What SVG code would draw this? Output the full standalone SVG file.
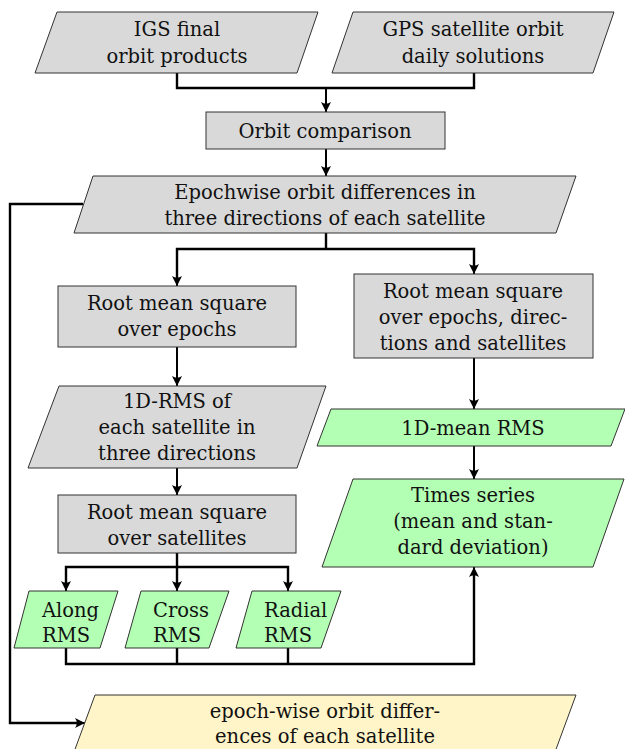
<svg xmlns="http://www.w3.org/2000/svg" width="625" height="749" viewBox="0 0 625 749">
<style>
text{font-family:'DejaVu Serif','Liberation Serif',serif;font-size:19.5px;fill:#111;text-anchor:middle}
.g{fill:#d9d9d9;stroke:#333;stroke-width:1}
.gr{fill:#b3ffb3;stroke:#333;stroke-width:1}
.y{fill:#fff5c8;stroke:#333;stroke-width:1}
.c{fill:none;stroke:#000;stroke-width:2.4;stroke-linejoin:miter}
.s{fill:none;stroke:#000;stroke-width:2}
.l{text-anchor:start}
</style>
<defs>
<marker id="ar" markerUnits="userSpaceOnUse" viewBox="-12 -7 13 14" refX="0" refY="0" markerWidth="13" markerHeight="14" orient="auto" overflow="visible">
<path d="M0,0 L-10,-5 Q-6.5,0 -10,5 Z" fill="#000"/>
</marker>
</defs>
<g id="connectors">
<path class="c" d="M177,73 V88 H474 V73"/>
<path class="s" d="M326,88 V112" marker-end="url(#ar)"/>
<path class="s" d="M326,149 V176" marker-end="url(#ar)"/>
<path class="c" d="M177,280 V249 H474 V268"/>
<path class="c" d="M326,233 V249"/>
<path class="s" d="M177,279 V286" marker-end="url(#ar)"/>
<path class="s" d="M474,267 V274" marker-end="url(#ar)"/>
<path class="s" d="M177,347 V386" marker-end="url(#ar)"/>
<path class="s" d="M177,468 V495" marker-end="url(#ar)"/>
<path class="c" d="M66,585 V567 H288 V585"/>
<path class="c" d="M177,553 V585"/>
<path class="s" d="M66,584 V591" marker-end="url(#ar)"/>
<path class="s" d="M177,584 V591" marker-end="url(#ar)"/>
<path class="s" d="M288,584 V591" marker-end="url(#ar)"/>
<path class="s" d="M474,358 V409" marker-end="url(#ar)"/>
<path class="s" d="M474,446 V479" marker-end="url(#ar)"/>
<path class="c" d="M66,648 V664 H474 V575"/>
<path class="c" d="M177,648 V664 M288,648 V664"/>
<path class="s" d="M474,576 V567" marker-end="url(#ar)"/>
<path class="c" d="M83,204 H10 V723 H78"/>
<path class="s" d="M77,723 H85" marker-end="url(#ar)"/>
</g>
<g id="igs"><polygon class="g" points="57,12 318,12 297,73 35,73"/><text x="177" y="36">IGS final</text><text x="177" y="63">orbit products</text></g>
<g id="gps"><polygon class="g" points="353,12 614,12 593,73 332,73"/><text x="473" y="36">GPS satellite orbit</text><text x="473" y="63">daily solutions</text></g>
<g id="comparison"><rect class="g" x="206" y="112" width="239" height="37"/><text x="325" y="138">Orbit comparison</text></g>
<g id="epochwise"><polygon class="g" points="93,176 576,176 556,233 74,233"/><text x="325" y="199">Epochwise orbit differences in</text><text x="325" y="225">three directions of each satellite</text></g>
<g id="rms-epochs"><rect class="g" x="58" y="286" width="238" height="61"/><text x="177" y="310">Root mean square</text><text x="177" y="336">over epochs</text></g>
<g id="rms-all"><rect class="g" x="354" y="274" width="239" height="84"/><text x="473" y="298">Root mean square</text><text x="473" y="324">over epochs, direc-</text><text x="473" y="350">tions and satellites</text></g>
<g id="rms1d"><polygon class="g" points="59,386 326,386 297,468 28,468"/><text x="177" y="408">1D-RMS of</text><text x="177" y="434">each satellite in</text><text x="177" y="460">three directions</text></g>
<g id="mean-rms"><polygon class="gr" points="331,409 625,409 611,446 317,446"/><text x="473" y="435">1D-mean RMS</text></g>
<g id="rms-sats"><rect class="g" x="58" y="495" width="238" height="58"/><text x="177" y="519">Root mean square</text><text x="177" y="545">over satellites</text></g>
<g id="times"><polygon class="gr" points="353,479 624,479 593,567 322,567"/><text x="473" y="502">Times series</text><text x="473" y="528">(mean and stan-</text><text x="473" y="554">dard deviation)</text></g>
<g id="along"><polygon class="gr" points="29,591 118,591 100,648 14,648"/><text class="l" x="42" y="617">Along</text><text class="l" x="42" y="642">RMS</text></g>
<g id="cross"><polygon class="gr" points="141,591 229,591 209,648 125,648"/><text class="l" x="153" y="617">Cross</text><text class="l" x="153" y="642">RMS</text></g>
<g id="radial"><polygon class="gr" points="252,591 341,591 321,648 236,648"/><text class="l" x="264" y="617">Radial</text><text class="l" x="264" y="642">RMS</text></g>
<g id="epochwise-out"><polygon class="y" points="95,695 576,695 555,752 74,752"/><text x="325" y="718">epoch-wise orbit differ-</text><text x="325" y="743">ences of each satellite</text></g>
</svg>
